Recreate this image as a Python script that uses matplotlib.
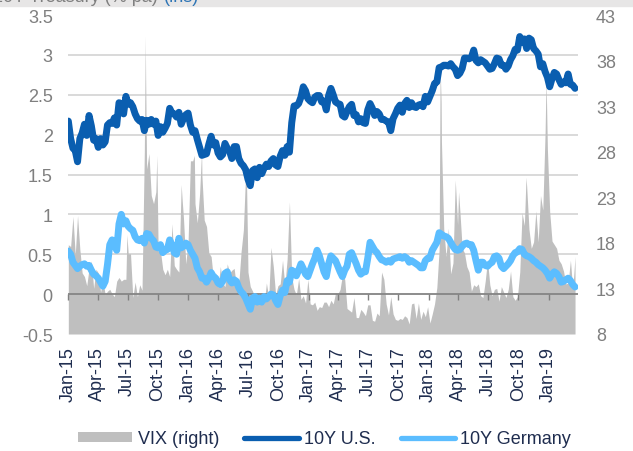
import numpy as np
import pandas as pd
import matplotlib
matplotlib.use('Agg')
import matplotlib.pyplot as plt
import matplotlib.dates as mdates
from matplotlib.patches import Patch, Rectangle
from matplotlib.lines import Line2D
from matplotlib.ticker import FuncFormatter

plt.rcParams['font.family'] = ['Liberation Sans', 'DejaVu Sans']

# weekly (Friday) readings, 2 Jan 2015 .. 22 Mar 2019
us_10y = [
    # 2015
    2.17, 1.95, 1.83, 1.80, 1.66,
    1.95, 2.02, 2.13, 1.99,
    2.24, 2.11, 1.93, 1.95,
    1.84, 1.95, 1.87, 1.91,
    2.12, 2.15, 2.14, 2.21, 2.12,
    2.40, 2.39, 2.26, 2.48,
    2.38, 2.40, 2.35, 2.26, 2.20,
    2.17, 2.19, 2.05, 2.18,
    2.13, 2.19, 2.13, 2.17,
    1.99, 2.10, 2.03, 2.08, 2.14,
    2.33, 2.27, 2.26, 2.22,
    2.28, 2.13, 2.20, 2.25,
    # 2016
    2.27, 2.12, 2.03, 2.05, 1.94,
    1.84, 1.74, 1.75, 1.76,
    1.88, 1.98, 1.87, 1.90,
    1.77, 1.72, 1.75, 1.89, 1.83,
    1.79, 1.70, 1.85, 1.85,
    1.70, 1.64, 1.61, 1.56,
    1.44, 1.36, 1.55, 1.57, 1.46,
    1.59, 1.51, 1.58, 1.63,
    1.60, 1.67, 1.70, 1.62, 1.60,
    1.73, 1.80, 1.74, 1.85,
    1.78, 2.15, 2.36, 2.36,
    2.39, 2.47, 2.60, 2.55, 2.45,
    # 2017
    2.42, 2.40, 2.47, 2.49,
    2.49, 2.41, 2.42, 2.31,
    2.49, 2.58, 2.50, 2.41, 2.39,
    2.38, 2.24, 2.22, 2.29,
    2.35, 2.38, 2.24, 2.25,
    2.16, 2.20, 2.15, 2.14, 2.31,
    2.39, 2.33, 2.24, 2.29,
    2.26, 2.19, 2.19, 2.17,
    2.16, 2.05, 2.20, 2.26, 2.33,
    2.37, 2.28, 2.39, 2.43,
    2.34, 2.40, 2.35, 2.34,
    2.37, 2.38, 2.35, 2.48, 2.41,
    # 2018
    2.48, 2.55, 2.64, 2.66,
    2.84, 2.85, 2.87, 2.87,
    2.86, 2.89, 2.85, 2.82, 2.74,
    2.77, 2.83, 2.96, 2.96,
    2.95, 2.97, 3.06, 2.93,
    2.90, 2.94, 2.92, 2.90, 2.86,
    2.82, 2.83, 2.89, 2.96,
    2.95, 2.87, 2.87, 2.82, 2.86,
    2.94, 2.99, 3.07, 3.06,
    3.23, 3.16, 3.20, 3.08,
    3.21, 3.19, 3.08, 3.05, 3.01,
    2.85, 2.89, 2.79, 2.72,
    # 2019
    2.60, 2.70, 2.78, 2.76,
    2.69, 2.63, 2.66, 2.65,
    2.76, 2.63, 2.62, 2.58,
]

de_10y = [
    # 2015
    0.54, 0.50, 0.40, 0.36, 0.32,
    0.35, 0.37, 0.38, 0.35,
    0.36, 0.30, 0.25, 0.23,
    0.20, 0.15, 0.10, 0.16,
    0.37, 0.62, 0.68, 0.62, 0.55,
    0.88, 1.00, 0.88, 0.92,
    0.85, 0.82, 0.80, 0.72, 0.68,
    0.67, 0.70, 0.64, 0.76,
    0.75, 0.70, 0.67, 0.59,
    0.58, 0.62, 0.52, 0.55, 0.56,
    0.68, 0.62, 0.52, 0.50,
    0.70, 0.58, 0.60, 0.64,
    # 2016
    0.62, 0.55, 0.50, 0.45, 0.33,
    0.28, 0.20, 0.20, 0.15,
    0.20, 0.27, 0.22, 0.20,
    0.14, 0.12, 0.16, 0.26, 0.28,
    0.18, 0.14, 0.18, 0.16,
    0.08, 0.03, 0.00, -0.05,
    -0.12, -0.19, -0.05, -0.03, -0.10,
    -0.05, -0.10, -0.03, -0.06,
    -0.03, 0.00, -0.01, -0.08, -0.13,
    -0.02, 0.05, 0.02, 0.17,
    0.15, 0.30, 0.28, 0.23,
    0.30, 0.38, 0.32, 0.25, 0.22,
    # 2017
    0.30, 0.38, 0.45, 0.55,
    0.48, 0.38, 0.28, 0.22,
    0.38, 0.48, 0.45, 0.42, 0.35,
    0.28, 0.22, 0.30, 0.35,
    0.50, 0.52, 0.45, 0.38,
    0.30, 0.25, 0.28, 0.28, 0.45,
    0.65, 0.60, 0.55, 0.52,
    0.47, 0.43, 0.42, 0.40,
    0.42, 0.40, 0.44, 0.45, 0.46,
    0.47, 0.45, 0.47, 0.45,
    0.40, 0.42, 0.40, 0.38,
    0.36, 0.33, 0.33, 0.42, 0.45,
    # 2018
    0.45, 0.55, 0.60, 0.65,
    0.77, 0.75, 0.73, 0.72,
    0.70, 0.65, 0.60, 0.56, 0.55,
    0.56, 0.60, 0.63, 0.64,
    0.62, 0.62, 0.55, 0.42,
    0.30, 0.40, 0.40, 0.36, 0.35,
    0.38, 0.40, 0.47, 0.48,
    0.45, 0.35, 0.32, 0.35, 0.38,
    0.42, 0.48, 0.52, 0.53,
    0.57, 0.56, 0.50, 0.48,
    0.47, 0.45, 0.42, 0.40, 0.37,
    0.35, 0.33, 0.30, 0.26,
    # 2019
    0.20, 0.25, 0.28, 0.26,
    0.22, 0.15, 0.16, 0.18,
    0.20, 0.17, 0.12, 0.09,
]

vix = [
    # 2015
    17.8, 17.6, 20.9, 16.7, 21.0,
    17.3, 14.7, 14.3, 13.3,
    15.2, 16.0, 13.0, 15.1,
    14.7, 12.6, 13.9, 12.3,
    12.7, 12.9, 12.4, 12.1, 13.8,
    14.2, 13.8, 14.0, 14.0,
    16.8, 16.8, 12.0, 13.7, 12.1,
    13.4, 12.8, 28.0, 26.1,
    27.8, 23.2, 22.3, 23.6,
    17.1, 17.1, 15.1, 14.5, 15.1,
    14.3, 20.1, 15.5, 15.1,
    14.8, 24.4, 20.7, 15.7,
    # 2016
    18.2, 27.0, 27.0, 22.3, 20.2,
    23.4, 25.4, 20.5, 19.8,
    16.9, 16.5, 14.0, 14.7,
    13.1, 15.4, 13.6, 13.2, 15.7,
    14.7, 15.0, 15.2, 13.1,
    13.5, 17.0, 19.4, 25.8,
    14.8, 13.2, 12.7, 12.0, 12.0,
    11.4, 11.6, 11.3, 13.6,
    12.0, 17.5, 15.4, 12.3, 13.3,
    13.5, 16.1, 13.3, 16.2,
    22.5, 14.2, 12.9, 12.3,
    14.1, 11.8, 12.2, 11.4, 14.0,
    # 2017
    11.3, 11.2, 11.5, 10.6,
    11.0, 10.9, 11.5, 11.5,
    11.0, 11.7, 11.3, 12.5, 12.4,
    12.9, 14.5, 14.0, 10.8,
    10.6, 10.4, 12.0, 9.8,
    9.8, 10.7, 10.4, 10.0, 11.2,
    11.2, 9.5, 9.4, 10.3,
    10.0, 14.8, 14.0, 11.3,
    10.1, 12.1, 10.2, 9.6, 9.5,
    9.7, 9.6, 10.0, 9.8,
    9.1, 11.3, 11.4, 9.7,
    11.4, 9.6, 10.5, 9.9, 11.0,
    # 2018
    9.2, 10.2, 11.3, 13.1,
    17.3, 29.1, 19.5, 16.5,
    19.6, 14.6, 15.8, 24.9, 20.0,
    21.5, 17.4, 16.9, 15.4,
    14.8, 12.7, 13.4, 13.2,
    13.5, 12.2, 12.0, 13.8, 16.1,
    13.4, 12.2, 12.9, 13.0,
    11.6, 13.2, 12.6, 12.0, 12.9,
    14.9, 12.1, 11.7, 12.1,
    14.8, 21.3, 19.9, 24.2,
    19.5, 17.4, 18.1, 21.5, 18.1,
    23.2, 21.6, 30.1, 28.3,
    # 2019
    21.4, 18.2, 17.8, 17.4,
    16.1, 15.7, 14.9, 13.5,
    13.6, 16.1, 12.9, 16.5,
]

# one-day VIX spikes that the weekly readings miss
vix_spike_dates = ['2015-06-29', '2015-08-24', '2015-08-25', '2015-09-28',
                   '2015-12-14', '2016-01-20', '2016-02-11', '2016-06-27',
                   '2018-02-05', '2018-02-08', '2018-04-02', '2018-10-24',
                   '2018-12-24']
vix_spike_values = [18.9, 40.7, 36.0, 27.6,
                    22.7, 27.6, 28.1, 23.9,
                    37.3, 33.5, 23.6, 25.2,
                    36.1]

assert len(us_10y) == len(de_10y) == len(vix)
week_dates = pd.date_range('2015-01-02', periods=len(us_10y), freq='W-FRI')
vix_all = pd.concat([pd.Series(vix, index=week_dates),
                     pd.Series(vix_spike_values, index=pd.to_datetime(vix_spike_dates))]).sort_index()

US_BLUE = '#0A5EB0'
DE_BLUE = '#5BBDFF'
VIX_GREY = '#BFBFBF'
NAVY = '#1F2D4F'
TICK_GREY = '#7F7F7F'
GRID = '#D9D9D9'

fig = plt.figure(figsize=(6.33, 4.52), dpi=100)
ax = fig.add_axes([68 / 633, 1 - 335 / 452, 510 / 633, 319 / 452])
ax2 = ax.twinx()
ax.set_zorder(ax2.get_zorder() + 1)
ax.patch.set_visible(False)

# VIX area (right axis), underneath
ax2.fill_between(vix_all.index, 8, vix_all.values, color=VIX_GREY, lw=0, zorder=1)
ax2.set_ylim(8, 43)
ax2.set_yticks(np.arange(8, 44, 5))
left_ticks = np.arange(-0.5, 3.51, 0.5)
ax2.set_yticks(8 + (left_ticks + 0.5) * 35 / 4, minor=True)
ax2.grid(which='minor', axis='y', color=GRID, lw=1.4)
ax2.set_axisbelow(True)
ax2.tick_params(axis='y', which='both', length=0)
ax2.tick_params(axis='y', which='major', labelsize=13, labelcolor=TICK_GREY, pad=13)

# yields (left axis)
ax.axhline(0, color='#808080', lw=1.2, zorder=2)
ax.plot(week_dates, us_10y, color=US_BLUE, lw=5, solid_joinstyle='round',
        solid_capstyle='round', zorder=3)
ax.plot(week_dates, de_10y, color=DE_BLUE, lw=5, solid_joinstyle='round',
        solid_capstyle='round', zorder=3)
ax.set_ylim(-0.5, 3.5)
ax.set_yticks(left_ticks)
ax.yaxis.set_major_formatter(FuncFormatter(lambda v, p: '%g' % v))
ax.tick_params(axis='y', length=0, labelsize=13, labelcolor=TICK_GREY, pad=11)

ax.set_xlim(pd.Timestamp('2015-01-01'), pd.Timestamp('2019-03-31'))
ax.xaxis.set_major_locator(mdates.MonthLocator(bymonth=[1, 4, 7, 10]))
ax.xaxis.set_major_formatter(mdates.DateFormatter('%b-%y'))
ax.tick_params(axis='x', length=0, labelsize=13, labelcolor=NAVY, pad=9,
               labelrotation=90)

# tick marks hanging from the zero line
sec = ax.secondary_xaxis(0.125)
sec.xaxis.set_major_locator(mdates.MonthLocator(bymonth=[1, 4, 7, 10]))
sec.tick_params(axis='x', direction='out', length=4, width=1, color='#808080',
                labelbottom=False)
for s in sec.spines.values():
    s.set_visible(False)

for a in (ax, ax2):
    for s in a.spines.values():
        s.set_visible(False)

# cropped header strip at the very top
fig.patches.append(Rectangle((0, 1 - 7 / 452), 1, 7 / 452, transform=fig.transFigure,
                             color='#E7E6E6', zorder=0))
fig.text(158 / 633, 1 - 1.5 / 452, '10Y Treasury (% pa)', ha='right', va='baseline',
         fontsize=13, color=TICK_GREY)
fig.text(164 / 633, 1 - 1.5 / 452, '(lhs)', ha='left', va='baseline',
         fontsize=13, color='#2E75B6')

handles = [Patch(color=VIX_GREY, lw=0),
           Line2D([], [], color=US_BLUE, lw=3.8, solid_capstyle='round'),
           Line2D([], [], color=DE_BLUE, lw=3.8, solid_capstyle='round')]
fig.legend(handles, ['VIX (right)', '10Y U.S.', '10Y Germany'], loc='center',
           bbox_to_anchor=(0.513, 1 - 440 / 452), ncol=3, frameon=False, fontsize=13,
           handlelength=3.0, handleheight=0.45, handletextpad=0.3, columnspacing=1.4,
           labelcolor=NAVY)

fig.savefig('out.png', dpi=100)
